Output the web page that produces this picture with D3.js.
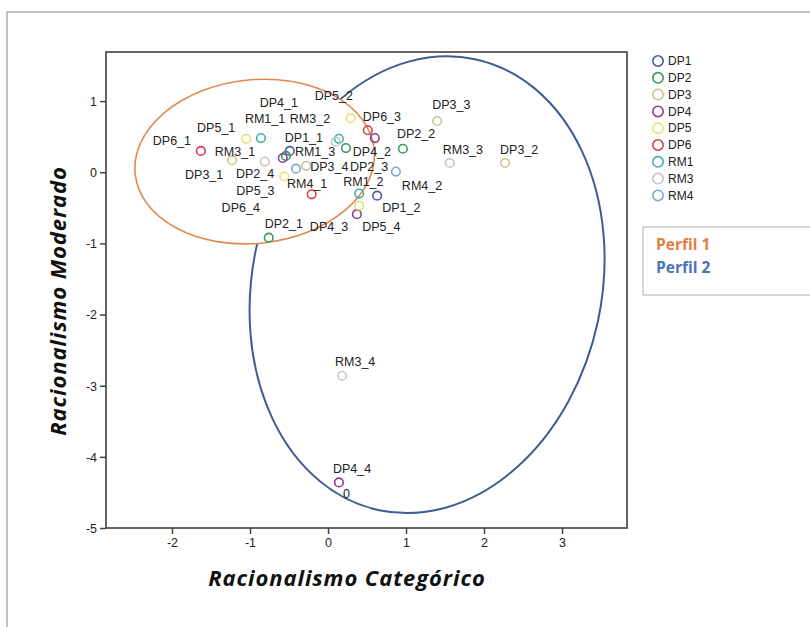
<!DOCTYPE html>
<html lang="es">
<head>
<meta charset="UTF-8">
<title>Racionalismo: mapa de categorías</title>
<script src="https://d3js.org/d3.v7.min.js"></script>
<style>
    body { margin: 0; background: #fff; }
    svg { display: block; }
    .pt-label, .tick text, .legend-text { font-family: "Liberation Sans", Arial, sans-serif; fill: #222; }
</style>
</head>
<body>
<div id="chart"></div>
<script>
// --- data ---
const categories = ["DP1_1","DP1_2","DP2_1","DP2_2","DP2_3","DP2_4","DP3_1","DP3_2","DP3_3","DP3_4",
    "DP4_1","DP4_2","DP4_3","DP4_4","DP5_1","DP5_2","DP5_3","DP5_4","DP6_1","DP6_3","DP6_4",
    "RM1_1","RM1_2","RM1_3","RM3_1","RM3_2","RM3_3","RM3_4","RM4_1","RM4_2"];
const dim1 = [-0.49, 0.63, -0.76, 0.96, 0.23, -0.54, -1.23, 2.27, 1.40, -0.28,
    -0.58, 0.60, 0.37, 0.14, -1.05, 0.29, -0.56, 0.40, -1.63, 0.51, -0.21,
    -0.86, 0.40, 0.14, -0.81, 0.10, 1.56, 0.18, -0.41, 0.87];
const dim2 = [0.30, -0.33, -0.92, 0.33, 0.34, 0.23, 0.17, 0.13, 0.72, 0.09,
    0.20, 0.48, -0.59, -4.36, 0.47, 0.76, -0.06, -0.47, 0.30, 0.59, -0.31,
    0.48, -0.30, 0.47, 0.15, 0.43, 0.13, -2.86, 0.05, 0.01];
const variables = ["DP1","DP2","DP3","DP4","DP5","DP6","RM1","RM3","RM4"];
const xTicks = [-2, -1, 0, 1, 2, 3];
const yTicks = [1, 0, -1, -2, -3, -4, -5];
// profile ellipses in axis units: centre, half-widths, tilt in degrees
const profileNames = ["Perfil 2", "Perfil 1"];
const profileCx = [1.27, -0.94];
const profileCy = [-1.58, 0.15];
const profileRx = [2.24, 1.54];
const profileRy = [3.24, 1.15];
const profileTilt = [12, -6];

// --- styles / layout ---
const varColor = {
    DP1: "#4a5a9c", DP2: "#3a9a5c", DP3: "#c9c592", DP4: "#8a3f8e", DP5: "#e8e272",
    DP6: "#d4404e", RM1: "#42b0ae", RM3: "#c6c6c6", RM4: "#80a7cd"
};
const profileColor = { "Perfil 1": "#e0894f", "Perfil 2": "#3f5d93" };
const legendColor = { "Perfil 1": "#e47e3c", "Perfil 2": "#4a73b9" };
// label offset from its point, in pixels (left edge, vertical centre)
const labelOffset = {
    DP1_1: [-5,-13], DP1_2: [5,12], DP2_1: [-4,-14], DP2_2: [-6,-15], DP2_3: [4,19], DP2_4: [-50,18],
    DP3_1: [-47,14], DP3_2: [-5,-13], DP3_3: [-5,-16], DP3_4: [4,1], DP4_1: [-23,-55], DP4_2: [-22,14],
    DP4_3: [-47,12], DP4_4: [-6,-14], DP5_1: [-49,-11], DP5_2: [-36,-23], DP5_3: [-48,14], DP5_4: [3,21],
    DP6_1: [-48,-10], DP6_3: [-5,-14], DP6_4: [-90,13], RM1_1: [-16,-19], RM1_2: [-16,-12], RM1_3: [-44,13],
    RM3_1: [-50,-10], RM3_2: [-46,-23], RM3_3: [-7,-13], RM3_4: [-7,-14], RM4_1: [-9,15], RM4_2: [6,14]
};

const W = 810, H = 627;
const plot = { left: 106, right: 627, top: 52, bottom: 528 };
const titleFont = "'Open Sans', Lato, sans-serif";

const svg = d3.select("#chart").append("svg")
    .attr("width", W)
    .attr("height", H);

// outer frame
svg.append("rect")
    .attr("x", 7).attr("y", 12)
    .attr("width", W + 20).attr("height", H + 20)
    .attr("fill", "none")
    .attr("stroke", "#9a9a9a")
    .attr("stroke-width", 1.2);

const x = d3.scaleLinear().domain([-2.846, 3.833]).range([plot.left, plot.right]);
const y = d3.scaleLinear().domain([-5, 1.69]).range([plot.bottom, plot.top]);

const points = categories.map((name, i) => ({
    name: name,
    variable: name.split("_")[0],
    x: dim1[i],
    y: dim2[i]
}));

// ellipses (Perfil 1 is filled white, covering the other one inside it)
const profiles = profileNames.map((name, i) => ({
    name, cx: profileCx[i], cy: profileCy[i], rx: profileRx[i], ry: profileRy[i], tilt: profileTilt[i]
}));

svg.append("g")
    .selectAll("ellipse")
    .data(profiles)
    .join("ellipse")
    .attr("transform", d => `translate(${x(d.cx)},${y(d.cy)}) rotate(${d.tilt})`)
    .attr("rx", d => x(d.cx + d.rx) - x(d.cx))
    .attr("ry", d => y(d.cy) - y(d.cy + d.ry))
    .attr("fill", d => d.name === "Perfil 1" ? "#fff" : "none")
    .attr("stroke", d => profileColor[d.name])
    .attr("stroke-width", d => d.name === "Perfil 1" ? 1.6 : 2);

// plot box
svg.append("rect")
    .attr("x", plot.left).attr("y", plot.top)
    .attr("width", plot.right - plot.left)
    .attr("height", plot.bottom - plot.top)
    .attr("fill", "none")
    .attr("stroke", "#555")
    .attr("stroke-width", 1.8);

// axes (plain hyphen for negatives, like the original)
const fmt = d => String(d);
const xAxis = svg.append("g")
    .attr("transform", `translate(0,${plot.bottom})`)
    .call(d3.axisBottom(x).tickValues(xTicks).tickSize(6).tickPadding(4).tickFormat(fmt));
const yAxis = svg.append("g")
    .attr("transform", `translate(${plot.left},0)`)
    .call(d3.axisLeft(y).tickValues(yTicks).tickSize(6).tickPadding(3).tickFormat(fmt));
[xAxis, yAxis].forEach(g => {
    g.select(".domain").remove();
    g.selectAll(".tick line").attr("stroke", "#444").attr("stroke-width", 1.5);
    g.selectAll(".tick text").style("font-size", "12.5px").attr("fill", "#222");
});
yAxis.selectAll(".tick text").attr("dy", "0.35em");

// points
svg.append("g")
    .selectAll("circle")
    .data(points)
    .join("circle")
    .attr("cx", d => x(d.x))
    .attr("cy", d => y(d.y))
    .attr("r", 4.3)
    .attr("fill", "none")
    .attr("stroke", d => varColor[d.variable])
    .attr("stroke-width", 1.6);

// point labels
svg.append("g")
    .selectAll("text")
    .data(points)
    .join("text")
    .attr("class", "pt-label")
    .attr("x", d => x(d.x) + labelOffset[d.name][0])
    .attr("y", d => y(d.y) + labelOffset[d.name][1])
    .attr("dy", "0.35em")
    .style("font-size", "12.5px")
    .text(d => d.name);

// stray "0" label under DP4_4
const dp44 = points.find(d => d.name === "DP4_4");
svg.append("text")
    .attr("class", "pt-label")
    .attr("x", x(dp44.x) + 4)
    .attr("y", y(dp44.y) + 11)
    .attr("dy", "0.35em")
    .style("font-size", "12.5px")
    .text("0");

// axis titles
function axisTitle(sel) {
    sel.attr("dy", "0.35em")
        .attr("text-anchor", "middle")
        .style("font-family", titleFont)
        .style("font-weight", "bold")
        .style("font-style", "italic")
        .style("font-size", "22px")
        .style("letter-spacing", "0.9px")
        .attr("fill", "#111");
}
svg.append("text")
    .attr("x", 347).attr("y", 578)
    .call(axisTitle)
    .text("Racionalismo Categórico");

svg.append("text")
    .attr("transform", "translate(58,301) rotate(-90)")
    .call(axisTitle)
    .text("Racionalismo Moderado");

// variable legend
const legend = svg.append("g").attr("transform", "translate(658,61)");
const rows = legend.selectAll("g")
    .data(variables)
    .join("g")
    .attr("transform", (d, i) => `translate(0,${i * 16.8})`);
rows.append("circle")
    .attr("r", 5.2)
    .attr("fill", "none")
    .attr("stroke", d => varColor[d])
    .attr("stroke-width", 1.6);
rows.append("text")
    .attr("class", "legend-text")
    .attr("x", 10)
    .attr("dy", "0.35em")
    .style("font-size", "12px")
    .text(d => d);

// profile legend box
svg.append("rect")
    .attr("x", 643).attr("y", 227)
    .attr("width", 200).attr("height", 68)
    .attr("fill", "#fff")
    .attr("stroke", "#bdbdbd")
    .attr("stroke-width", 1.2);
svg.append("g")
    .selectAll("text")
    .data(["Perfil 1", "Perfil 2"])
    .join("text")
    .attr("x", 656)
    .attr("y", (d, i) => 245 + i * 23)
    .attr("dy", "0.35em")
    .style("font-family", titleFont)
    .style("font-weight", "bold")
    .style("font-size", "15.5px")
    .attr("fill", d => legendColor[d])
    .text(d => d);
</script>
</body>
</html>
